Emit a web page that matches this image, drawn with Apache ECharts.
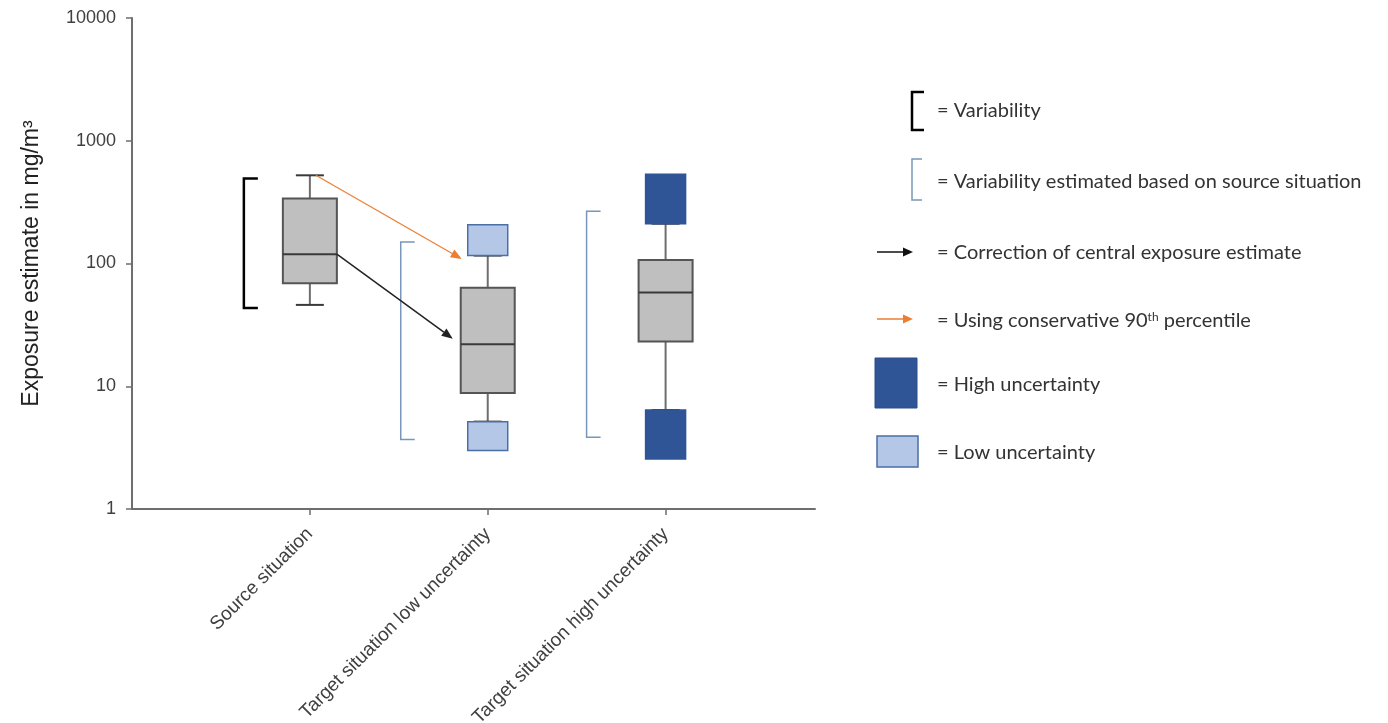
<!DOCTYPE html>
<html>
<head>
<meta charset="utf-8">
<script src="https://cdn.jsdelivr.net/npm/echarts@6/dist/echarts.min.js"></script>
<style>
  html, body { margin: 0; padding: 0; background: #fff; }
  #chart { width: 1388px; height: 723px; }
</style>
</head>
<body>
<div id="chart"></div>
<script>
// categories on the x axis (placed at 1, 2, 3 of a value axis)
const categories = ['Source situation', 'Target situation low uncertainty', 'Target situation high uncertainty'];

// box plot values (mg/m3)
const whiskerLow = [46, 5.15, 6.4];
const quartile1 = [69, 8.8, 23.2];
const medians = [119, 22, 58];
const quartile3 = [338, 63.5, 107];
const whiskerHigh = [523, 116, 211];

// uncertainty bands [category index, from, to]
const lowUncertaintyBands = [[1, 116, 207], [1, 2.99, 5.15]];
const highUncertaintyBands = [[2, 211, 533], [2, 2.56, 6.42]];

// brackets [category index, low, high]
const variabilityRanges = [[0, 43.3, 492]];
const estimatedVariabilityRanges = [[1, 3.68, 150], [2, 3.84, 266]];

// arrows [from category, from value, to category, to value]
const centralCorrection = [[0, 119, 1, 24.4]];
const conservativeP90 = [[0, 523, 1, 109]];

const yRange = [1, 10000];

// pixel offsets from the category centre (styling only)
const bracketOffset = { 0: -66, 1: -87, 2: -79 };

const chartDom = document.getElementById('chart');
const myChart = echarts.init(chartDom);

function line(x1, y1, x2, y2, stroke, w) {
  return { type: 'line', shape: { x1, y1, x2, y2 }, style: { stroke, lineWidth: w } };
}

function arrowShape(x1, y1, x2, y2, color, w, headLen, headW) {
  const a = Math.atan2(y2 - y1, x2 - x1);
  const bx = x2 - Math.cos(a) * headLen, by = y2 - Math.sin(a) * headLen;
  const nx = -Math.sin(a) * headW / 2, ny = Math.cos(a) * headW / 2;
  return [
    line(x1, y1, bx, by, color, w),
    { type: 'polygon', shape: { points: [[x2, y2], [bx + nx, by + ny], [bx - nx, by - ny]] }, style: { fill: color } }
  ];
}

function renderBox(params, api) {
  const x = api.value(0);
  const lo = api.coord([x, api.value(1)]);
  const q1 = api.coord([x, api.value(2)]);
  const md = api.coord([x, api.value(3)]);
  const q3 = api.coord([x, api.value(4)]);
  const hi = api.coord([x, api.value(5)]);
  const cx = lo[0];
  const hw = 27, cw = 14;
  return {
    type: 'group',
    children: [
      line(cx, q3[1], cx, hi[1], '#6e6e6e', 2),
      line(cx, q1[1], cx, lo[1], '#6e6e6e', 2),
      line(cx - cw, hi[1], cx + cw, hi[1], '#3a3a3a', 2),
      line(cx - cw, lo[1], cx + cw, lo[1], '#3a3a3a', 2),
      { type: 'rect', shape: { x: cx - hw, y: q3[1], width: hw * 2, height: q1[1] - q3[1] },
        style: { fill: '#bfbfbf', stroke: '#555555', lineWidth: 2 } },
      line(cx - hw, md[1], cx + hw, md[1], '#3a3a3a', 2)
    ]
  };
}

function makeBandRenderer(fill, stroke) {
  return function (params, api) {
    const x = api.value(0);
    const a = api.coord([x, api.value(1)]);
    const b = api.coord([x, api.value(2)]);
    const hw = 20;
    return {
      type: 'rect',
      shape: { x: a[0] - hw, y: b[1], width: hw * 2, height: a[1] - b[1] },
      style: { fill, stroke, lineWidth: 1.5 }
    };
  };
}

function makeBracketRenderer(stroke, w) {
  return function (params, api) {
    const x = api.value(0);
    const a = api.coord([x, api.value(1)]);
    const b = api.coord([x, api.value(2)]);
    const off = bracketOffset[x - 1];
    const bx = a[0] + off;
    return {
      type: 'polyline',
      shape: { points: [[bx + 14, b[1]], [bx, b[1]], [bx, a[1]], [bx + 14, a[1]]] },
      style: { stroke, lineWidth: w, fill: null }
    };
  };
}

function makeArrowRenderer(color, w, startOff, endOff) {
  return function (params, api) {
    const p0 = api.coord([api.value(0), api.value(1)]);
    const p1 = api.coord([api.value(2), api.value(3)]);
    return {
      type: 'group',
      children: arrowShape(p0[0] + startOff, p0[1], p1[0] + endOff, p1[1], color, w, 11, 9)
    };
  };
}

const boxData = categories.map((c, i) => [i + 1, whiskerLow[i], quartile1[i], medians[i], quartile3[i], whiskerHigh[i]]);
const shiftCat = rows => rows.map(r => [r[0] + 1].concat(r.slice(1)));
const shiftArrow = rows => rows.map(r => [r[0] + 1, r[1], r[2] + 1, r[3]]);

const legendFont = 'Lato, "Open Sans", sans-serif';
const legendText = (y, text, extra) => ({
  type: 'text', left: 937, top: y - 9,
  style: Object.assign({ text, font: '20px ' + legendFont, fill: '#333333' }, extra || {})
});

const graphicEls = [
  { type: 'polyline', shape: { points: [[924, 92], [912, 92], [912, 130], [924, 130]] }, style: { stroke: '#000', lineWidth: 2.5, fill: null } },
  legendText(110, '= Variability'),
  { type: 'polyline', shape: { points: [[922, 159], [912, 159], [912, 200], [922, 200]] }, style: { stroke: '#7896bb', lineWidth: 1.5, fill: null } },
  legendText(181, '= Variability estimated based on source situation'),
  { type: 'group', children: arrowShape(877, 252, 913, 252, '#111', 1.5, 10, 9) },
  legendText(252, '= Correction of central exposure estimate'),
  { type: 'group', children: arrowShape(877, 319, 913, 319, '#ed7d31', 1.5, 10, 9) },
  {
    type: 'text', left: 937, top: 311,
    style: {
      text: '= Using conservative 90{sup|th} percentile',
      font: '20px ' + legendFont, fill: '#333333',
      rich: { sup: { fontSize: 12, fontFamily: legendFont, fill: '#333333', verticalAlign: 'top', lineHeight: 14, padding: [0, 0, 7, 0] } }
    }
  },
  { type: 'rect', shape: { x: 875, y: 358, width: 42, height: 50 }, style: { fill: '#2f5597', stroke: '#2b4e88', lineWidth: 1 } },
  legendText(384, '= High uncertainty'),
  { type: 'rect', shape: { x: 877, y: 436, width: 41, height: 31 }, style: { fill: '#b4c7e7', stroke: '#4a6fa5', lineWidth: 1.5 } },
  legendText(452, '= Low uncertainty')
];

const option = {
  animation: false,
  grid: { left: 132, right: 573, top: 18, bottom: 214, containLabel: false, outerBoundsMode: 'none' },
  xAxis: {
    type: 'value',
    min: 0,
    max: 3.84,
    interval: 1,
    splitLine: { show: false },
    axisLine: { lineStyle: { color: '#6e6e6e', width: 2 } },
    axisTick: { customValues: [1, 2, 3], length: 6, lineStyle: { color: '#6e6e6e', width: 1.5 } },
    axisLabel: {
      customValues: [1, 2, 3],
      rotate: 45,
      margin: 22,
      fontFamily: '"Liberation Sans", Arial, sans-serif',
      fontSize: 19,
      color: '#404040',
      formatter: v => categories[Math.round(v) - 1] || ''
    }
  },
  yAxis: {
    type: 'log',
    logBase: 10,
    min: yRange[0],
    max: yRange[1],
    name: 'Exposure estimate in mg/m³',
    nameLocation: 'middle',
    nameRotate: 90,
    nameGap: 89,
    nameTextStyle: { fontFamily: '"Liberation Sans", Arial, sans-serif', fontSize: 23, color: '#222' },
    splitLine: { show: false },
    axisLine: { show: true, lineStyle: { color: '#6e6e6e', width: 2 } },
    axisTick: { show: true, length: 6, lineStyle: { color: '#6e6e6e', width: 1.5 } },
    axisLabel: {
      margin: 16,
      fontFamily: '"Liberation Sans", Arial, sans-serif',
      fontSize: 18,
      color: '#404040',
      formatter: v => String(v)
    }
  },
  graphic: { elements: graphicEls },
  series: [
    {
      type: 'custom', name: 'box', renderItem: renderBox,
      encode: { x: 0, y: [1, 2, 3, 4, 5] }, data: boxData, z: 2
    },
    {
      type: 'custom', name: 'Low uncertainty', renderItem: makeBandRenderer('#b4c7e7', '#4a6fa5'),
      encode: { x: 0, y: [1, 2] }, data: shiftCat(lowUncertaintyBands), z: 3
    },
    {
      type: 'custom', name: 'High uncertainty', renderItem: makeBandRenderer('#2f5597', '#2f5597'),
      encode: { x: 0, y: [1, 2] }, data: shiftCat(highUncertaintyBands), z: 3
    },
    {
      type: 'custom', name: 'Variability', renderItem: makeBracketRenderer('#000', 2.5),
      encode: { x: 0, y: [1, 2] }, data: shiftCat(variabilityRanges), z: 3
    },
    {
      type: 'custom', name: 'Estimated variability', renderItem: makeBracketRenderer('#7896bb', 1.5),
      encode: { x: 0, y: [1, 2] }, data: shiftCat(estimatedVariabilityRanges), z: 3
    },
    {
      type: 'custom', name: 'Correction', renderItem: makeArrowRenderer('#222', 1.5, 27, -35),
      encode: { x: [0, 2], y: [1, 3] }, data: shiftArrow(centralCorrection), z: 4
    },
    {
      type: 'custom', name: 'P90', renderItem: makeArrowRenderer('#ed7d31', 1.2, 6, -26),
      encode: { x: [0, 2], y: [1, 3] }, data: shiftArrow(conservativeP90), z: 4
    }
  ]
};

myChart.setOption(option);
</script>
</body>
</html>
